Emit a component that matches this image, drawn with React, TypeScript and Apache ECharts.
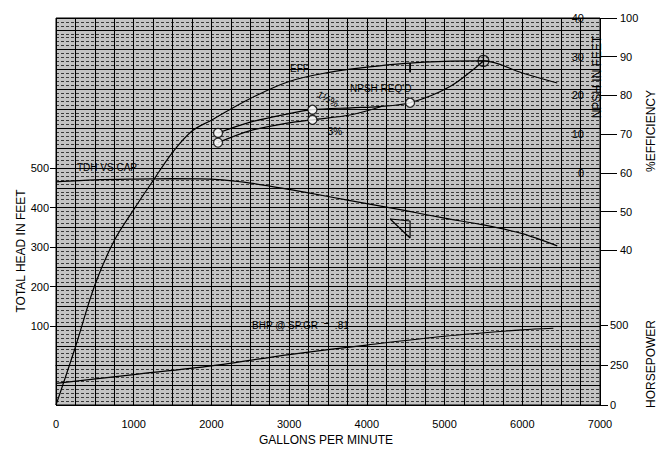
import React, { useEffect, useRef } from "react";
import * as echarts from "echarts";

// Tick values
const gpmMax = 7000;
const headTicks = [100, 200, 300, 400, 500];
const effTicks = [40, 50, 60, 70, 80, 90, 100];
const npshTicks = [0, 10, 20, 30, 40];
const hpTicks = [0, 250, 500];

// TDH vs capacity (feet)
const tdhGpm = [0, 500, 1000, 1500, 2000, 2500, 3000, 3500, 4000, 4500, 5000, 5500, 6000, 6450];
const tdhHead = [465, 470, 472, 473, 472, 462, 446, 428, 410, 392, 373, 356, 334, 303];

// Efficiency (%)
const effGpm = [0, 250, 500, 750, 1000, 1250, 1500, 1750, 2000, 2500, 3000, 3500, 4000, 4500, 5000, 5500, 6000, 6450];
const effValues = [0, 15, 31, 42.5, 50.5, 58, 65.3, 70.8, 73.6, 79.2, 83.6, 85.9, 87.3, 88.3, 88.8, 88.9, 85.8, 83.2];

// Brake horsepower @ SP.GR .81
const bhpGpm = [0, 1000, 2000, 3000, 4000, 5000, 6000, 6400];
const bhpValues = [135, 190, 245, 315, 375, 430, 470, 480];

// NPSH required (feet), two margins
const npshUpperGpm = [2085, 2500, 3000, 3300, 3800, 4150, 4556, 5070, 5500];
const npshUpperValues = [10.3, 13.1, 15.3, 16.3, 16.8, 17.1, 18.1, 22.3, 28.9];
const npshLowerGpm = [2085, 2500, 3000, 3300, 3800, 4200];
const npshLowerValues = [7.8, 10.9, 12.9, 13.7, 15, 17.2];
const npshMarkGpm = [2085, 2085, 3300, 3300, 4556];
const npshMarkValues = [10.3, 7.8, 16.3, 13.7, 18.1];
const bepGpm = [5500];
const bepNpsh = [28.9];

// Design point marks
const designGpm = [4300, 4556, 4556, 4300];
const designHead = [371, 366, 323, 371];
const effMarkGpm = [4556, 4556];
const effMarkValues = [88.4, 85.9];

const zip = (xs: number[], ys: number[]) => xs.map((x, i) => [x, ys[i]]);

const FONT = '"Liberation Sans", Arial, Helvetica, sans-serif';
const BLACK = "#000";

export default function App() {
  const ref = useRef<HTMLDivElement>(null);

  useEffect(() => {
    if (!ref.current) return;
    const chart = echarts.init(ref.current, null, { renderer: "svg" });

    const lineBase = {
      type: "line" as const,
      symbol: "none",
      xAxisIndex: 0,
      lineStyle: { color: BLACK, width: 1.2 },
      silent: true,
      z: 5,
    };

    const title = (text: string, x: number, y: number, rot = 0) => ({
      type: "text",
      x,
      y,
      rotation: rot,
      z: 20,
      style: { text, fill: BLACK, font: `12px ${FONT}`, align: "center", verticalAlign: "middle" },
    });
    const note = (text: string, x: number, y: number, align = "left", rot = 0) => ({
      type: "text",
      x,
      y,
      rotation: rot,
      z: 20,
      style: { text, fill: BLACK, font: `10px ${FONT}`, align, verticalAlign: "middle" },
    });

    const option: any = {
      animation: false,
      backgroundColor: "#fff",
      textStyle: { fontFamily: FONT },
      grid: {
        left: 56,
        right: 65,
        top: 18,
        bottom: 44,
        show: true,
        backgroundColor: "#c4c4c4",
        borderColor: BLACK,
        borderWidth: 1,
      },
      xAxis: [
        {
          type: "value",
          min: 0,
          max: gpmMax,
          interval: 1000,
          position: "bottom",
          axisLine: { show: true, lineStyle: { color: BLACK, width: 1 } },
          axisTick: { show: true, length: 5, lineStyle: { color: BLACK } },
          axisLabel: { color: BLACK, fontSize: 11, margin: 13, fontFamily: FONT, formatter: (v: number) => String(v) },
          splitLine: { show: false },
        },
        {
          type: "value",
          min: 0,
          max: gpmMax,
          interval: 250,
          position: "top",
          axisLine: { show: false },
          axisTick: { show: false },
          axisLabel: { show: false },
          splitLine: { show: true, lineStyle: { color: "#000", width: 1 } },
        },
      ],
      yAxis: [
        {
          type: "value",
          min: -100,
          max: 880,
          position: "left",
          axisLine: { show: false },
          axisTick: { show: true, length: 6, customValues: headTicks, lineStyle: { color: BLACK } },
          axisLabel: { color: BLACK, fontSize: 11, margin: 7, customValues: headTicks, fontFamily: FONT },
          splitLine: { show: false },
        },
        {
          type: "value",
          min: -100,
          max: 880,
          interval: 50,
          position: "left",
          axisLine: { show: false },
          axisTick: { show: false },
          axisLabel: { show: false },
          splitLine: { show: true, lineStyle: { color: "#000", width: 1 } },
          minorTick: { show: false, splitNumber: 5 },
          minorSplitLine: { show: true, lineStyle: { color: "#3a3a3a", width: 1, type: [3, 2] } },
        },
        {
          type: "value",
          min: 0,
          max: 100,
          position: "right",
          axisLine: { show: false },
          axisTick: { show: true, inside: false, length: 17, customValues: effTicks, lineStyle: { color: BLACK } },
          axisLabel: {
            color: BLACK,
            fontSize: 11,
            margin: 20,
            customValues: effTicks,
            fontFamily: FONT,
            verticalAlign: "middle",
            padding: [0, 0, 8, 0],
          },
          splitLine: { show: false },
        },
        {
          type: "value",
          min: 0,
          max: 2420,
          position: "right",
          axisLine: { show: false },
          axisTick: { show: true, length: 8, customValues: hpTicks, lineStyle: { color: BLACK } },
          axisLabel: { color: BLACK, fontSize: 11, margin: 10, customValues: hpTicks, fontFamily: FONT },
          splitLine: { show: false },
        },
        {
          type: "value",
          min: -60,
          max: 40,
          position: "right",
          offset: -16,
          axisLine: { show: false },
          axisTick: { show: false },
          axisLabel: {
            inside: true,
            margin: 0,
            color: BLACK,
            fontSize: 11,
            customValues: npshTicks,
            fontFamily: FONT,
            verticalAlign: "middle",
            padding: [0, 0, 12, 0],
          },
          splitLine: { show: false },
        },
      ],
      series: [
        { ...lineBase, name: "TDH", yAxisIndex: 0, smooth: 0.3, data: zip(tdhGpm, tdhHead) },
        { ...lineBase, name: "EFF", yAxisIndex: 2, smooth: 0.35, data: zip(effGpm, effValues) },
        { ...lineBase, name: "BHP", yAxisIndex: 3, smooth: 0.3, data: zip(bhpGpm, bhpValues) },
        { ...lineBase, name: "NPSH 1", yAxisIndex: 4, smooth: 0.3, data: zip(npshUpperGpm, npshUpperValues) },
        { ...lineBase, name: "NPSH 2", yAxisIndex: 4, smooth: 0.3, data: zip(npshLowerGpm, npshLowerValues) },
        { ...lineBase, name: "design", yAxisIndex: 0, data: zip(designGpm, designHead) },
        { ...lineBase, name: "effmark", yAxisIndex: 2, lineStyle: { color: BLACK, width: 1.8 }, data: zip(effMarkGpm, effMarkValues) },
        {
          type: "scatter",
          xAxisIndex: 0,
          yAxisIndex: 4,
          symbol: "circle",
          symbolSize: 9,
          itemStyle: { color: "#fff", borderColor: BLACK, borderWidth: 1.3 },
          data: zip(npshMarkGpm, npshMarkValues),
          silent: true,
          z: 10,
        },
        {
          type: "scatter",
          xAxisIndex: 0,
          yAxisIndex: 4,
          symbol: "path://M10 0A10 10 0 1 1 9.99 0ZM0 10L20 10M10 0L10 20",
          symbolSize: 11,
          itemStyle: { color: "rgba(255,255,255,0)", borderColor: BLACK, borderWidth: 1.3 },
          data: zip(bepGpm, bepNpsh),
          silent: true,
          z: 10,
        },
      ],
      graphic: [
        title("TOTAL HEAD IN FEET", 21, 251, Math.PI / 2),
        title("GALLONS PER MINUTE", 326, 440),
        title("%EFFICIENCY", 651, 131, Math.PI / 2),
        title("HORSEPOWER", 651, 364, Math.PI / 2),
        title("NPSH IN FEET", 597, 77, Math.PI / 2),
        note("TDH VS CAP", 77, 167),
        note("EFF", 290, 68),
        note("NPSH REQ'D", 350, 88),
        note("1½%", 328, 99, "center", -0.5),
        note("3%", 335, 131, "center"),
        note("BHP @ SP.GR  =  .81", 252, 325),
      ],
    };

    chart.setOption(option);
    return () => chart.dispose();
  }, []);

  return (
    <div
      ref={ref}
      style={{ position: "fixed", left: 0, top: 0, width: 665, height: 449, background: "#fff" }}
    />
  );
}
